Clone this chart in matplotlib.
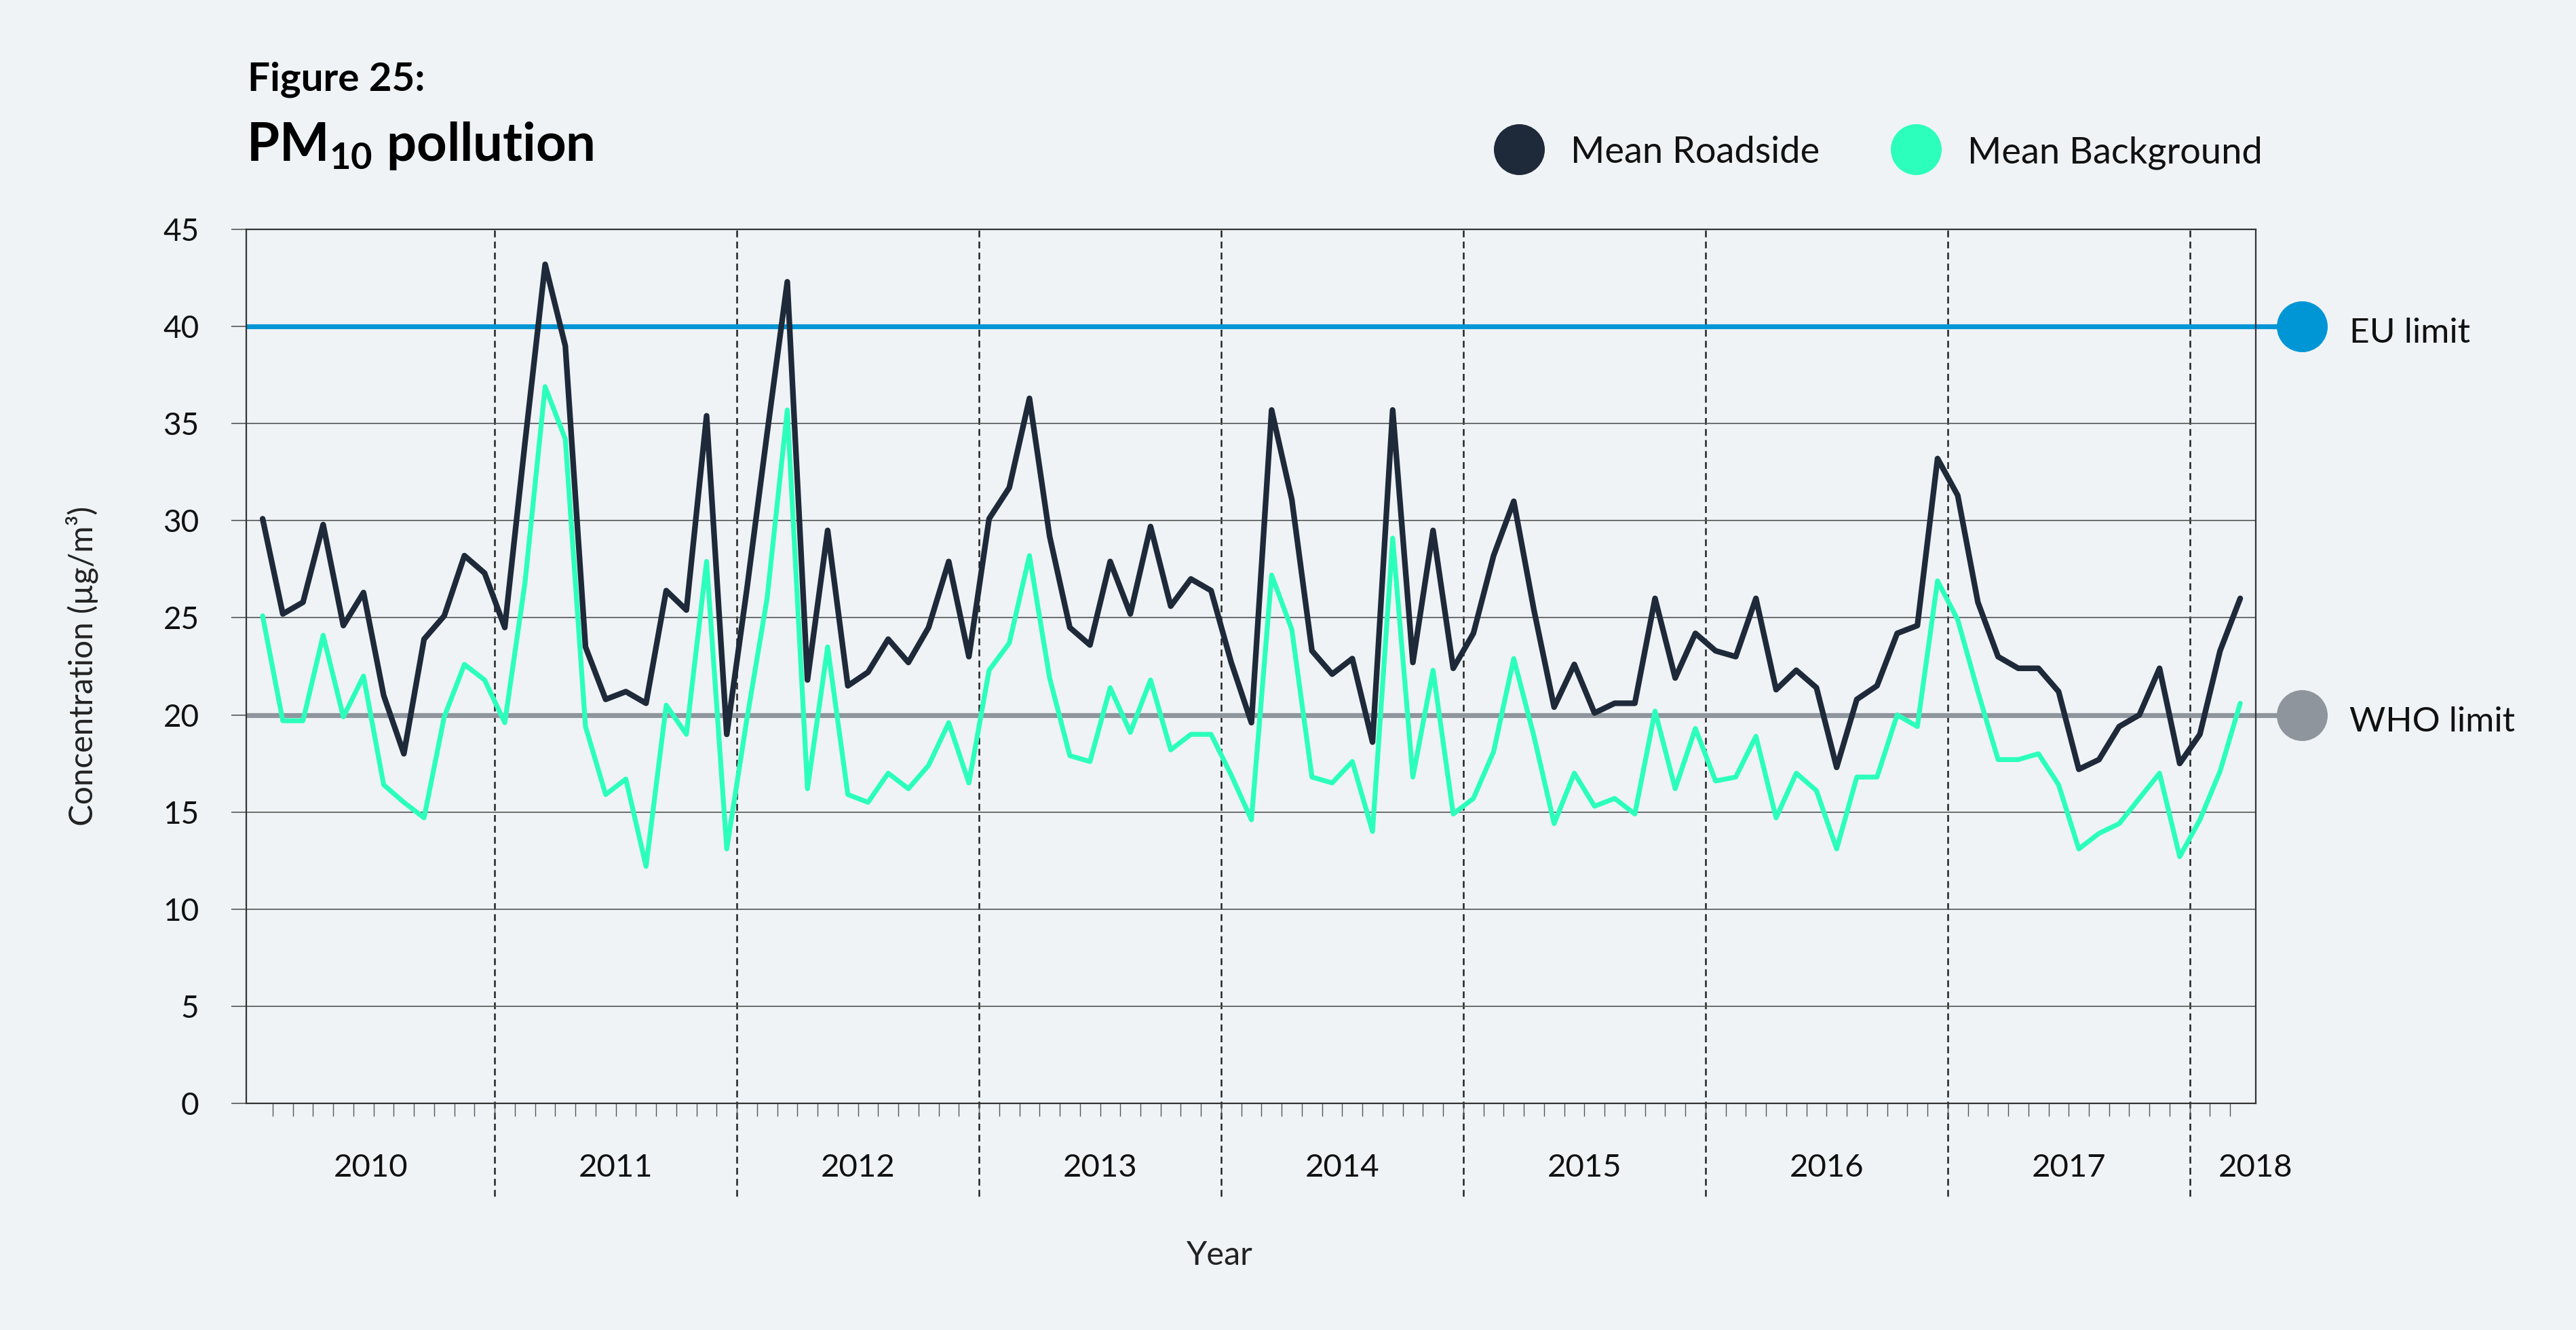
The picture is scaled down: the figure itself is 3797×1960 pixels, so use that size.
import numpy as np
import matplotlib
matplotlib.use("Agg")
import matplotlib.pyplot as plt
from matplotlib.transforms import blended_transform_factory

# ---- data (monthly means, Jan 2010 - Mar 2018) ----
years = [2010, 2011, 2012, 2013, 2014, 2015, 2016, 2017, 2018]
months_per_year = [12, 12, 12, 12, 12, 12, 12, 12, 3]

roadside = [
    30.1, 25.2, 25.8, 29.8, 24.6, 26.3, 21.0, 18.0, 23.9, 25.1, 28.2, 27.3,  # 2010
    24.5, 34.0, 43.2, 39.0, 23.5, 20.8, 21.2, 20.6, 26.4, 25.4, 35.4, 19.0,  # 2011
    26.5, 34.5, 42.3, 21.8, 29.5, 21.5, 22.2, 23.9, 22.7, 24.5, 27.9, 23.0,  # 2012
    30.1, 31.7, 36.3, 29.2, 24.5, 23.6, 27.9, 25.2, 29.7, 25.6, 27.0, 26.4,  # 2013
    22.7, 19.6, 35.7, 31.1, 23.3, 22.1, 22.9, 18.6, 35.7, 22.7, 29.5, 22.4,  # 2014
    24.2, 28.2, 31.0, 25.4, 20.4, 22.6, 20.1, 20.6, 20.6, 26.0, 21.9, 24.2,  # 2015
    23.3, 23.0, 26.0, 21.3, 22.3, 21.4, 17.3, 20.8, 21.5, 24.2, 24.6, 33.2,  # 2016
    31.3, 25.8, 23.0, 22.4, 22.4, 21.2, 17.2, 17.7, 19.4, 20.0, 22.4, 17.5,  # 2017
    19.0, 23.3, 26.0,                                                        # 2018
]

background = [
    25.1, 19.7, 19.7, 24.1, 19.9, 22.0, 16.4, 15.5, 14.7, 19.9, 22.6, 21.8,  # 2010
    19.6, 26.8, 36.9, 34.2, 19.4, 15.9, 16.7, 12.2, 20.5, 19.0, 27.9, 13.1,  # 2011
    19.8, 26.0, 35.7, 16.2, 23.5, 15.9, 15.5, 17.0, 16.2, 17.4, 19.6, 16.5,  # 2012
    22.3, 23.7, 28.2, 21.9, 17.9, 17.6, 21.4, 19.1, 21.8, 18.2, 19.0, 19.0,  # 2013
    16.9, 14.6, 27.2, 24.4, 16.8, 16.5, 17.6, 14.0, 29.1, 16.8, 22.3, 14.9,  # 2014
    15.7, 18.1, 22.9, 18.9, 14.4, 17.0, 15.3, 15.7, 14.9, 20.2, 16.2, 19.3,  # 2015
    16.6, 16.8, 18.9, 14.7, 17.0, 16.1, 13.1, 16.8, 16.8, 20.0, 19.4, 26.9,  # 2016
    24.9, 21.2, 17.7, 17.7, 18.0, 16.4, 13.1, 13.9, 14.4, 15.7, 17.0, 12.7,  # 2017
    14.6, 17.1, 20.6,                                                        # 2018
]

eu_limit = 40
who_limit = 20
yticks = [0, 5, 10, 15, 20, 25, 30, 35, 40, 45]

# ---- style ----
BG = "#EFF3F6"
DARK = "#1E2939"
GREEN = "#2CFFBB"
EU_BLUE = "#0096D6"
WHO_GREY = "#8E959C"

plt.rcParams["font.family"] = ["Lato", "DejaVu Sans"]
plt.rcParams["mathtext.fontset"] = "custom"
plt.rcParams["mathtext.rm"] = "Lato:bold"
plt.rcParams["mathtext.bf"] = "Lato:bold"
plt.rcParams["mathtext.it"] = "Lato:bold"

W, H = 3797, 1960
fig = plt.figure(figsize=(W / 200, H / 200), dpi=200, facecolor=BG)

left, right, top, bottom = 363, 3325, 338, 1626
ax = fig.add_axes([left / W, 1 - bottom / H, (right - left) / W, (bottom - top) / H])
ax.set_facecolor(BG)

n = len(roadside)
x = np.arange(n)
ax.set_xlim(-0.81, n - 1 + 0.77)
ax.set_ylim(0, 45)

# grid + frame
ax.set_yticks(yticks)
ax.grid(axis="y", color="#555555", linewidth=0.6, zorder=0)
for s in ax.spines.values():
    s.set_color("#333333")
    s.set_linewidth(0.8)
ax.tick_params(axis="y", length=8, width=0.6, color="#555555", pad=17,
               labelsize=16.5, labelcolor="#111111")

# month ticks between categories
ax.set_xticks(np.arange(0.5, n - 1, 1))
ax.set_xticklabels([])
ax.tick_params(axis="x", length=7, width=0.5, color="#555555")

# year separators and labels
trans_x = blended_transform_factory(ax.transData, ax.transAxes)
bounds = np.cumsum(months_per_year)[:-1] - 0.5
for b in bounds:
    ax.axvline(b, ymin=-0.106, ymax=1, clip_on=False, color="#222222",
               linewidth=0.9, linestyle=(0, (4, 2.5)), zorder=1)
edges = [ax.get_xlim()[0]] + list(bounds) + [ax.get_xlim()[1]]
for k, yr in enumerate(years):
    if months_per_year[k] == 12:
        xc = (edges[k] + edges[k + 1]) / 2
    else:
        xc = edges[k + 1]
    ax.text(xc, -0.074, str(yr), transform=trans_x, ha="center", va="center",
            fontsize=17, color="#111111")

# limit lines with end circles
trans_y = blended_transform_factory(ax.transAxes, ax.transData)
for val, col, lab in [(eu_limit, EU_BLUE, "EU limit"), (who_limit, WHO_GREY, "WHO limit")]:
    ax.plot([0, 1.023], [val, val], transform=trans_y, color=col, linewidth=2.6,
            clip_on=False, zorder=2, solid_capstyle="butt")
    ax.plot([1.023], [val], transform=trans_y, marker="o", markersize=26,
            color=col, clip_on=False, zorder=2)
    ax.text(1.0466, val - 0.35, lab, transform=trans_y, ha="left", va="center",
            fontsize=18.5, color="#111111")

# data lines
ax.plot(x, background, color=GREEN, linewidth=2.6, zorder=3,
        solid_joinstyle="round", solid_capstyle="round")
ax.plot(x, roadside, color=DARK, linewidth=3.0, zorder=4,
        solid_joinstyle="round", solid_capstyle="round")

# legend (manual, top right)
for cx, col, lab in [(2239, DARK, "Mean Roadside"), (2824, GREEN, "Mean Background")]:
    fig.add_artist(plt.Line2D([cx / W], [1 - 220 / H], marker="o", markersize=26,
                              color=col, linestyle="none", transform=fig.transFigure))
    fig.text((cx + 76) / W, 1 - 240 / H, lab, ha="left", va="baseline",
             fontsize=19.5, color="#111111")

# titles
fig.text(365 / W, 1 - 133 / H, "Figure 25:", ha="left", va="baseline",
         fontsize=21, fontweight="bold", color="#000000")
fig.text(363 / W, 1 - 237 / H, r"PM$_{\mathrm{10}}$ pollution", ha="left", va="baseline",
         fontsize=28, fontweight="bold", color="#000000")

# axis labels
fig.text(121 / W, 1 - 981 / H, "Concentration (µg/m³)", rotation=90,
         ha="center", va="center", fontsize=17.2, color="#222222")
fig.text(1797 / W, 1 - 1850 / H, "Year", ha="center", va="center",
         fontsize=17.5, color="#222222")

fig.savefig("out.png", dpi=200, facecolor=BG)
